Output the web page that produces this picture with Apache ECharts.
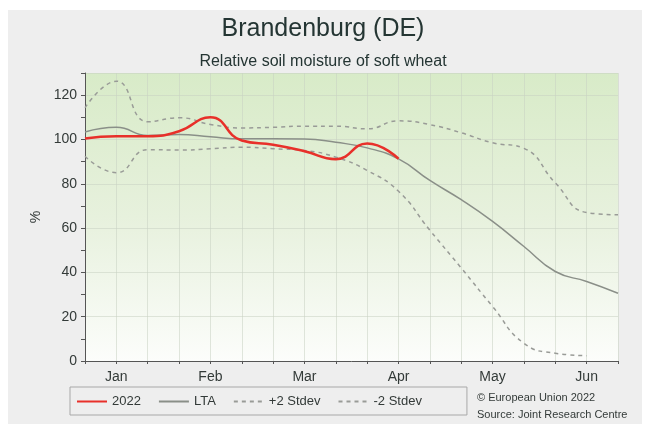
<!DOCTYPE html>
<html>
<head>
<meta charset="utf-8">
<script src="https://cdn.jsdelivr.net/npm/echarts@6/dist/echarts.min.js"></script>
<style>
html,body{margin:0;padding:0;background:#ffffff;}
#c{width:646px;height:424px;}
</style>
</head>
<body>
<div id="c"></div>
<script>
// Dekads Jan d1 .. Jun d3
const months = ['Jan','Feb','Mar','Apr','May','Jun'];
const dekads = ['Jan-1','Jan-2','Jan-3','Feb-1','Feb-2','Feb-3','Mar-1','Mar-2','Mar-3','Apr-1','Apr-2','Apr-3','May-1','May-2','May-3','Jun-1','Jun-2','Jun-3'];
const yTicks = [0,20,40,60,80,100,120];
const s2022  = [100.4,101.5,101.5,103.7,110,99.5,97.6,94.7,91.1,98.2,91.3,null,null,null,null,null,null,null];
const sLTA   = [103.4,105.5,101.8,102.2,101.2,100.3,100.3,100.2,98.7,96.2,91.2,81.5,72.8,63,51.7,40.4,35.9,30.6];
const sPlus2 = [114.3,126.3,108,109.8,106.8,105.2,105.5,106,106,104.8,108.4,106.7,103,98.5,96,80.4,67,66];
const sMinus2= [92.4,85,95.4,95.2,95.8,96.5,95.8,95,92,86,76.6,59,42,24.6,8,3.5,2.4,null];

const chart = echarts.init(document.getElementById('c'), null, {renderer:'canvas'});
const FONT = 'Liberation Sans, Arial, sans-serif';
const txt = '#333a38';
const opt = {
  animation:false,
  backgroundColor:'#ffffff',
  graphic:[
    {type:'rect', z:-10, shape:{x:8,y:10,width:634,height:414}, style:{fill:'#eeeeee'}},
    {type:'text', left:477, top:392, style:{text:'© European Union 2022', fill:txt, font:'11px '+FONT}},
    {type:'text', left:477, top:409, style:{text:'Source: Joint Research Centre', fill:txt, font:'11px '+FONT}}
  ],
  title:[
    {text:'Brandenburg (DE)', left:'center', top:12, textStyle:{fontFamily:FONT, fontSize:25, fontWeight:'normal', color:'#243533'}},
    {text:'Relative soil moisture of soft wheat', left:'center', top:49, textStyle:{fontFamily:FONT, fontSize:16, fontWeight:'normal', color:'#243533'}}
  ],
  legend:{
    left:70, top:387,
    padding:[8,45,7,6],
    itemGap:17, itemWidth:30, itemHeight:10,
    borderColor:'#a8a8a8', borderWidth:1,
    itemStyle:{color:'rgba(0,0,0,0)', borderWidth:0, opacity:0},
    textStyle:{fontFamily:FONT, fontSize:13, color:txt},
    data:['2022','LTA','+2 Stdev','-2 Stdev']
  },
  grid:{left:85, right:28, top:73, bottom:63, show:true, borderWidth:0,
    backgroundColor:new echarts.graphic.LinearGradient(0,0,0,1,[
      {offset:0,color:'#d8ebc8'},{offset:0.5,color:'#e7f1dd'},{offset:1,color:'#fcfdfb'}])},
  xAxis:{
    type:'category', data:dekads, boundaryGap:false,
    axisLine:{lineStyle:{color:'#555'}},
    axisTick:{show:true, length:3, inside:false, lineStyle:{color:'#555'}},
    splitLine:{show:true, lineStyle:{color:'rgba(200,210,195,0.55)', width:1}},
    axisLabel:{interval:0, fontFamily:FONT, fontSize:14, color:txt, margin:9,
      formatter:function(v){ return v.endsWith('-2') ? v.split('-')[0] : ''; }}
  },
  yAxis:[{
    type:'value', min:0, max:130, interval:10,
    name:'%', nameLocation:'middle', nameGap:40, nameRotate:90,
    nameTextStyle:{fontFamily:FONT, fontSize:14, color:txt},
    axisLine:{show:true, lineStyle:{color:'#555'}},
    axisTick:{show:true, length:4, lineStyle:{color:'#555'}},
    splitLine:{show:false},
    axisLabel:{fontFamily:FONT, fontSize:14, color:txt, margin:8,
      formatter:function(v){ return yTicks.indexOf(v) >= 0 ? String(v) : ''; }}
  },{
    type:'value', min:0, max:130, interval:20, position:'left',
    axisLine:{show:false}, axisTick:{show:false}, axisLabel:{show:false},
    splitLine:{show:true, lineStyle:{color:'rgba(200,210,195,0.55)', width:1}}
  }],
  series:[
    {name:'+2 Stdev', type:'line', data:sPlus2, smooth:0.5, symbol:'none', z:2,
      lineStyle:{color:'#999b97', width:1.5, type:[4,4]}, itemStyle:{color:'#999b97'}},
    {name:'-2 Stdev', type:'line', data:sMinus2, smooth:0.5, symbol:'none', z:2,
      lineStyle:{color:'#999b97', width:1.5, type:[4,4]}, itemStyle:{color:'#999b97'}},
    {name:'LTA', type:'line', data:sLTA, smooth:0.5, symbol:'none', z:3,
      lineStyle:{color:'#8a8f88', width:1.5}, itemStyle:{color:'#8a8f88'}},
    {name:'2022', type:'line', data:s2022, smooth:0.5, symbol:'none', z:4,
      lineStyle:{color:'#e8302a', width:2.5}, itemStyle:{color:'#e8302a'}}
  ]
};
chart.setOption(opt);
</script>
</body>
</html>
